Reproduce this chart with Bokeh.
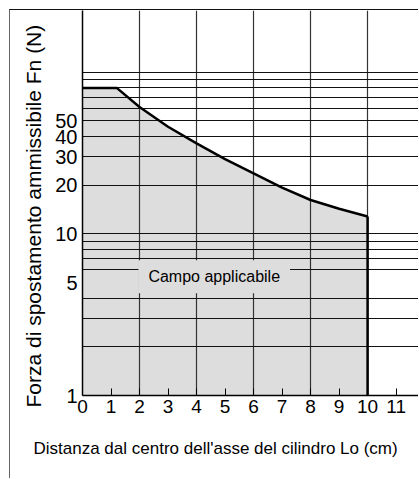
from bokeh.plotting import figure
from bokeh.models import Range1d, FixedTicker, Label, Title
from bokeh.embed import file_html
from bokeh.resources import INLINE

# Allowable displacement force vs. distance from cylinder axis
distance_cm = [0, 1.2, 2, 3, 4, 5, 6, 7, 8, 9, 10]
force_n = [80, 80, 61, 46, 36.3, 29, 23.7, 19.3, 16.2, 14.3, 12.8]

x_ticks = list(range(0, 12))
x_grid = [2, 4, 6, 8, 10]
y_ticks = [1, 5, 10, 20, 30, 40, 50]
y_grid = [2, 3, 4, 6, 7, 8, 9, 10, 20, 30, 40, 50, 60, 70, 80, 90, 100]

area_label = "Campo applicabile"
x_title = "Distanza dal centro dell'asse del cilindro Lo (cm)"
y_title = "Forza di spostamento ammissibile  Fn (N)"

SANS = "'Liberation Sans', Arial, sans-serif"

p = figure(width=409, height=469, y_axis_type="log",
           x_range=Range1d(0, 11.82), y_range=Range1d(1, 241),
           output_backend="svg", toolbar_location=None,
           min_border_left=72, min_border_right=0,
           min_border_top=0, min_border_bottom=83)

# outer frame of the chart: left and top rules
p.margin = (9, 0, 0, 9)
p.styles = {"border-left": "1px solid #666666", "border-top": "1.5px solid #111111"}

p.background_fill_color = "white"
p.border_fill_color = "white"
p.outline_line_color = None

# applicable region (drawn beneath the grid)
p.varea(x=distance_cm, y1=1, y2=force_n, fill_color="#dddddd", level="image")

# grid
p.xgrid.ticker = FixedTicker(ticks=x_grid)
p.ygrid.ticker = FixedTicker(ticks=y_grid)
p.xgrid.grid_line_color = "#333333"
p.ygrid.grid_line_color = "#111111"
p.xgrid.grid_line_width = 1.2
p.ygrid.grid_line_width = 1.2

# limit curve
p.line(distance_cm, force_n, line_color="black", line_width=2.5)
p.segment(x0=distance_cm[-1], y0=force_n[-1], x1=distance_cm[-1], y1=1,
          line_color="black", line_width=2.5)

# axes
p.xaxis.ticker = FixedTicker(ticks=x_ticks)
p.xaxis.major_tick_in = 7
p.xaxis.major_tick_out = 0
p.xaxis.minor_tick_line_color = None
p.xaxis.axis_line_color = "black"
p.xaxis.axis_line_width = 1.5
p.xaxis.major_tick_line_color = "black"
p.xaxis.major_label_text_font = SANS
p.xaxis.major_label_text_font_size = "19px"
p.xaxis.major_label_text_color = "black"
p.xaxis.major_label_standoff = 4

p.yaxis.ticker = FixedTicker(ticks=y_ticks)
p.yaxis.major_label_overrides = {t: str(t) for t in y_ticks}
p.yaxis.major_tick_in = 0
p.yaxis.major_tick_out = 0
p.yaxis.minor_tick_line_color = None
p.yaxis.axis_line_color = "black"
p.yaxis.axis_line_width = 1.5
p.yaxis.major_label_text_font = SANS
p.yaxis.major_label_text_font_size = "20px"
p.yaxis.major_label_text_color = "black"
p.yaxis.major_label_standoff = 5

# axis titles as side-panel titles, anchored to the frame start and shifted
p.add_layout(Title(text=x_title, align="left", offset=-49, standoff=43,
                   text_font=SANS, text_font_size="17px",
                   text_font_style="normal", text_color="black"), "below")
p.add_layout(Title(text=y_title, align="left", offset=-12, standoff=16,
                   text_font=SANS, text_font_size="21px",
                   text_font_style="normal", text_color="black"), "left")

# region caption with an opaque box that interrupts the grid
p.add_layout(Label(x=4.62, y=5.43, text=area_label, text_align="center",
                   text_baseline="middle", text_font=SANS,
                   text_font_size="16px", text_color="black",
                   background_fill_color="#dddddd", padding=(10, 8)))

open("out.html", "w").write(file_html(p, INLINE))
